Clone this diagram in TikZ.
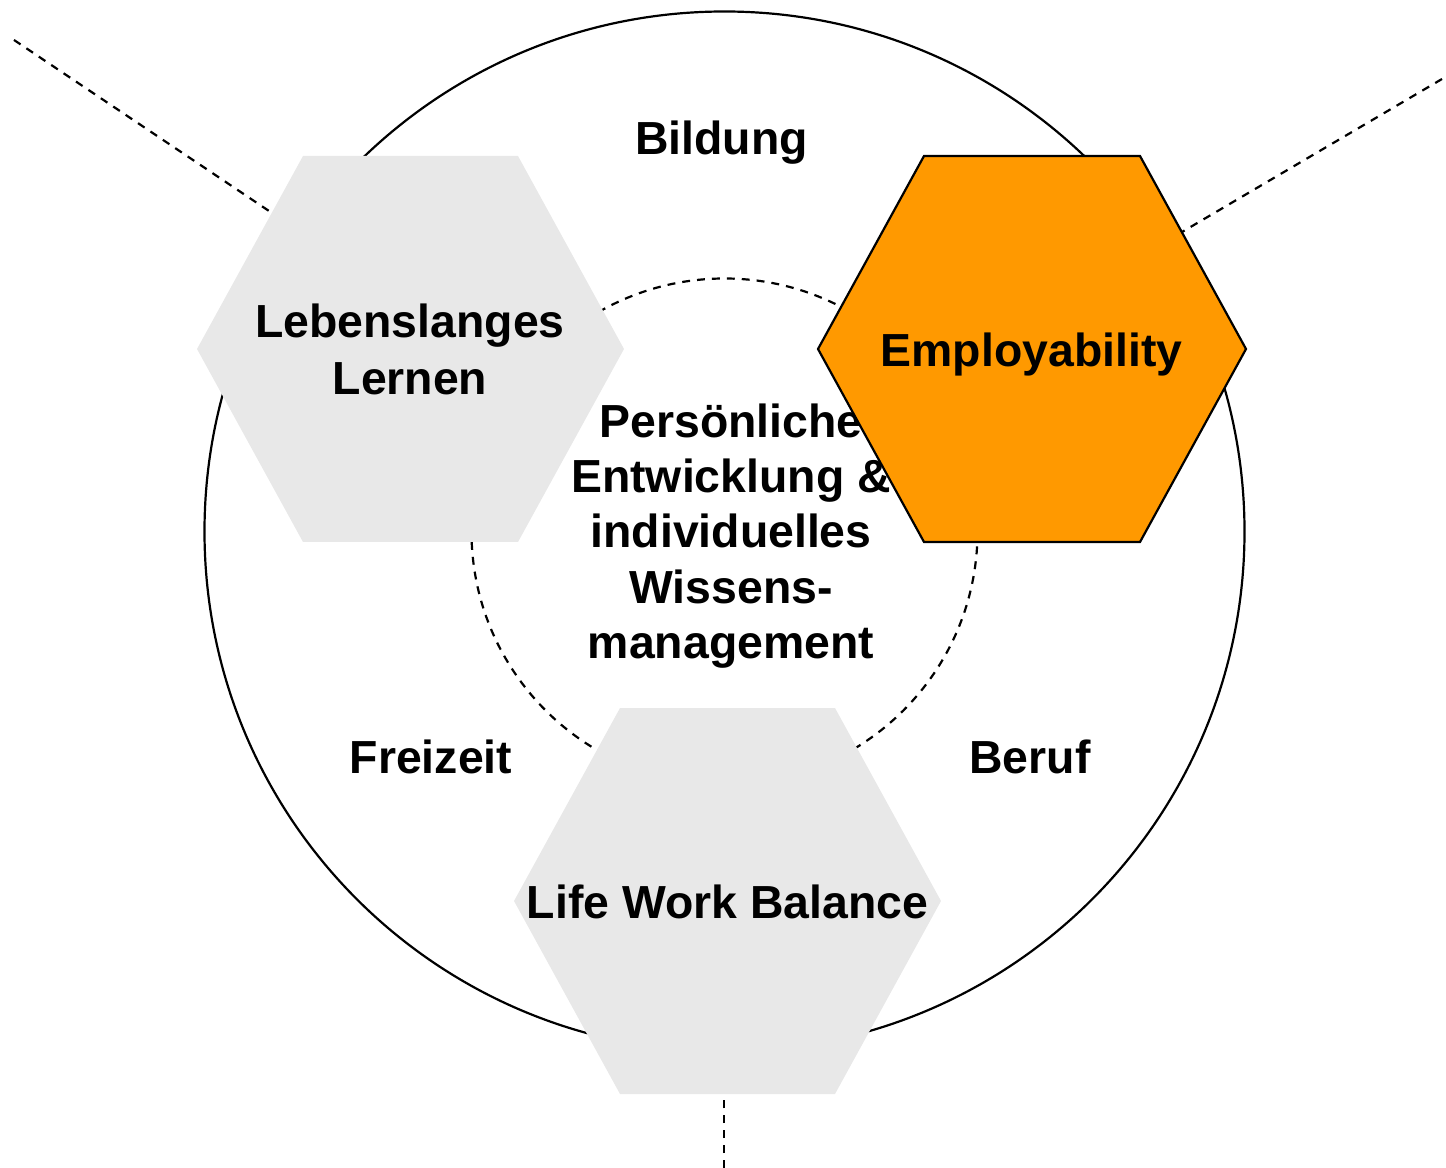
\documentclass[tikz,border=0pt]{standalone}
\usepackage{fontspec}
\setmainfont{Liberation Sans}
\definecolor{hexgray}{HTML}{E8E8E8}
\definecolor{hexorange}{HTML}{FF9900}
\tikzset{
  ring/.style={draw, line width=1.25pt},
  sector/.style={draw, line width=1.25pt, dash pattern=on 4.5pt off 4pt},
  grayhex/.style={fill=hexgray},
  orangehex/.style={fill=hexorange, draw, line width=1.25pt, line join=miter},
}
\begin{document}
\begin{tikzpicture}[x=0.02cm, y=-0.02cm]
  \useasboundingbox (0,0) rectangle (1446,1168);

  \coordinate (c) at (724.5,531.5);

  % rings
  \draw[ring] (c) circle[radius=520];
  \draw[sector] (c) circle[radius=253];

  % sector borders
  \coordinate (tl)   at (14,40);
  \coordinate (tlin) at (272,213);
  \coordinate (tr)   at (1442,79);
  \coordinate (trin) at (1182,232);
  \coordinate (bt)   at (724,1168);
  \coordinate (btin) at (724,1094);
  \draw[sector] (tl) -- (tlin);
  \draw[sector] (tr) -- (trin);
  \draw[sector] (bt) -- (btin);

  \node[font={\fontsize{26.4}{31.5}\selectfont\bfseries}, align=center, inner sep=0]
    (kern) at (731,536) {Persönliche\\Entwicklung \&\\individuelles\\Wissens-\\management};

  % hexagons
  \fill[grayhex]     (197,349) -- (303,156) -- (518,156) -- (624,349) -- (518,542) -- (303,542) -- cycle;
  \filldraw[orangehex] (818,349) -- (924,156) -- (1140,156) -- (1246,349) -- (1140,542) -- (924,542) -- cycle;
  \fill[grayhex]     (514,901) -- (620,708) -- (835,708) -- (941,901) -- (835,1094) -- (620,1094) -- cycle;

  \begin{scope}[every node/.style={font={\fontsize{26.4}{32.3}\selectfont\bfseries}, align=center, inner sep=0}]
    \node (lernen)  at (410,349.5) {Lebenslanges\\Lernen};
    \node[anchor=base] (employ)  at (1031.5,367) {Employability};
    \node[anchor=base] (balance) at (727.5,918) {Life Work Balance};
    \node[anchor=base] (bildung) at (721.5,155) {Bildung};
    \node[anchor=base] (freizeit) at (431,773) {Freizeit};
    \node[anchor=base] (beruf)   at (1030,773) {Beruf};
  \end{scope}

\end{tikzpicture}
\end{document}
